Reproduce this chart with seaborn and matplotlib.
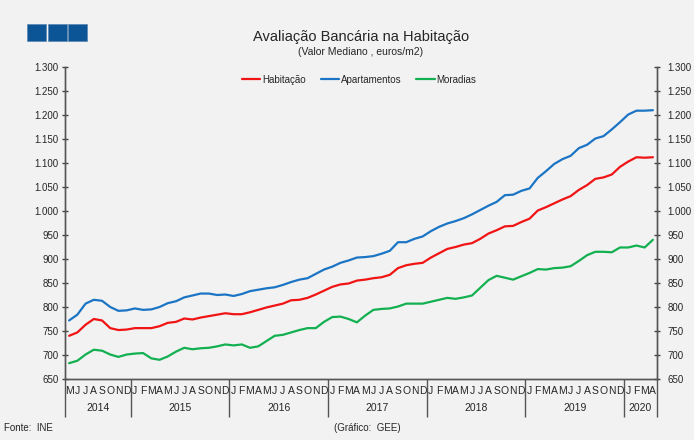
import numpy as np
import pandas as pd
import matplotlib
matplotlib.use('Agg')
import matplotlib.pyplot as plt
import seaborn as sns
from matplotlib.patches import Rectangle
from matplotlib.ticker import FuncFormatter, FixedLocator

# Monthly data, May 2014 - April 2020
months = (['M', 'J', 'J', 'A', 'S', 'O', 'N', 'D']
          + ['J', 'F', 'M', 'A', 'M', 'J', 'J', 'A', 'S', 'O', 'N', 'D'] * 5
          + ['J', 'F', 'M', 'A'])
years = ['2014', '2015', '2016', '2017', '2018', '2019', '2020']
year_len = [8, 12, 12, 12, 12, 12, 4]

habitacao = [740, 747, 763, 775, 772, 756, 752, 753, 756, 756, 756, 760,
             767, 769, 776, 774, 778, 781, 784, 787, 785, 785, 789, 794,
             799, 803, 807, 814, 815, 819, 826, 834, 842, 847, 849, 855,
             857, 860, 862, 867, 881, 887, 890, 892, 903, 912, 921, 925,
             930, 933, 942, 953, 960, 968, 969, 977, 984, 1001, 1008, 1016,
             1024, 1031, 1044, 1054, 1067, 1070, 1076, 1092, 1103, 1112, 1111, 1112]
apartamentos = [772, 784, 807, 815, 813, 800, 792, 793, 797, 794, 795, 800,
                808, 812, 820, 824, 828, 828, 825, 826, 823, 827, 833, 836,
                839, 841, 846, 852, 857, 860, 869, 878, 884, 892, 897, 903,
                904, 906, 911, 917, 935, 935, 942, 947, 958, 967, 974, 979,
                985, 993, 1002, 1011, 1019, 1033, 1034, 1042, 1047, 1069, 1083, 1098,
                1108, 1115, 1131, 1138, 1151, 1156, 1170, 1185, 1201, 1209, 1209, 1210]
moradias = [683, 688, 701, 711, 709, 701, 696, 701, 703, 704, 693, 690,
            697, 707, 715, 712, 714, 715, 718, 722, 720, 722, 715, 718,
            729, 740, 742, 747, 752, 756, 756, 769, 779, 780, 775, 768,
            782, 794, 796, 797, 801, 807, 807, 807, 811, 815, 819, 817,
            820, 824, 840, 856, 865, 861, 857, 864, 871, 879, 878, 881,
            882, 885, 896, 908, 915, 915, 914, 924, 924, 928, 924, 940]

df = pd.DataFrame({'idx': range(len(months)),
                   'Habitação': habitacao,
                   'Apartamentos': apartamentos,
                   'Moradias': moradias})
long_df = df.melt(id_vars='idx', var_name='serie', value_name='valor')

bg = '#f2f2f2'
sns.set_style('white')
plt.rcParams['font.family'] = ['Liberation Sans', 'DejaVu Sans']
plt.rcParams['figure.facecolor'] = bg
plt.rcParams['axes.facecolor'] = bg

fig = plt.figure(figsize=(6.94, 4.40), dpi=100)
ax = fig.add_axes([65 / 694, 1 - 379 / 440, 592 / 694, 312 / 440])

palette = {'Habitação': '#f01414', 'Apartamentos': '#1b75c4', 'Moradias': '#12b050'}
sns.lineplot(data=long_df, x='idx', y='valor', hue='serie',
             hue_order=['Habitação', 'Apartamentos', 'Moradias'],
             palette=palette, linewidth=1.6, ax=ax)

ax.set_xlim(-0.5, len(months) - 0.5)
ax.set_ylim(650, 1300)
ax.set_xlabel('')
ax.set_ylabel('')

# y axis (left and right)
yt = np.arange(650, 1301, 50)
fmt = FuncFormatter(lambda v, _: '{:,.0f}'.format(v).replace(',', '.'))
ax.set_yticks(yt)
ax.yaxis.set_major_formatter(fmt)
ax.tick_params(axis='y', direction='inout', length=5, width=1, color='#444444',
               labelsize=7, pad=2)
ax2 = ax.twinx()
ax2.set_ylim(650, 1300)
ax2.set_yticks(yt)
ax2.yaxis.set_major_formatter(fmt)
ax2.tick_params(axis='y', direction='inout', length=5, width=1, color='#444444',
                labelsize=7, pad=5)

for a in (ax, ax2):
    a.spines['top'].set_visible(False)
    for s in ('left', 'right', 'bottom'):
        a.spines[s].set_color('#555555')
        a.spines[s].set_linewidth(1)

# month labels and separators
ax.set_xticks(range(len(months)))
ax.set_xticklabels(months)
ax.tick_params(axis='x', which='major', length=0, labelsize=7.5, pad=5)
ax.xaxis.set_minor_locator(FixedLocator(np.arange(0.5, len(months) - 1, 1)))
ax.tick_params(axis='x', which='minor', direction='out', length=11, width=1, color='#555555')

# year separators and labels
trans = ax.get_xaxis_transform()
bounds = np.concatenate([[0], np.cumsum(year_len)]) - 0.5
ax.vlines(bounds, -38 / 312, 0, transform=trans, color='#555555', linewidth=1, clip_on=False)
for i, y in enumerate(years):
    ax.text((bounds[i] + bounds[i + 1]) / 2, -29 / 312, y, transform=trans,
            ha='center', va='center', fontsize=7.5)

# legend
ax.legend(loc='upper center', bbox_to_anchor=(0.497, 1.0), ncol=3, frameon=False,
          fontsize=7, handlelength=1.9, handletextpad=0.2, columnspacing=1.5,
          borderaxespad=0.4)

# titles and notes
fig.text(361 / 694, 1 - 37 / 440, 'Avaliação Bancária na Habitação', ha='center', va='center', fontsize=10.5)
fig.text(361 / 694, 1 - 52 / 440, '(Valor Mediano , euros/m2)', ha='center', va='center', fontsize=7.5)
fig.text(4 / 694, 1 - 428 / 440, 'Fonte:  INE', ha='left', va='center', fontsize=7)
fig.text(334 / 694, 1 - 428 / 440, '(Gráfico:  GEE)', ha='left', va='center', fontsize=7)

# logo squares
for x0 in (27, 48, 68):
    fig.add_artist(Rectangle((x0 / 694, 1 - 41 / 440), 19 / 694, 17 / 440,
                             transform=fig.transFigure, facecolor='#0b5597',
                             edgecolor='#5a86b0', linewidth=0.5))

fig.savefig('out.png', dpi=100, facecolor=bg)
